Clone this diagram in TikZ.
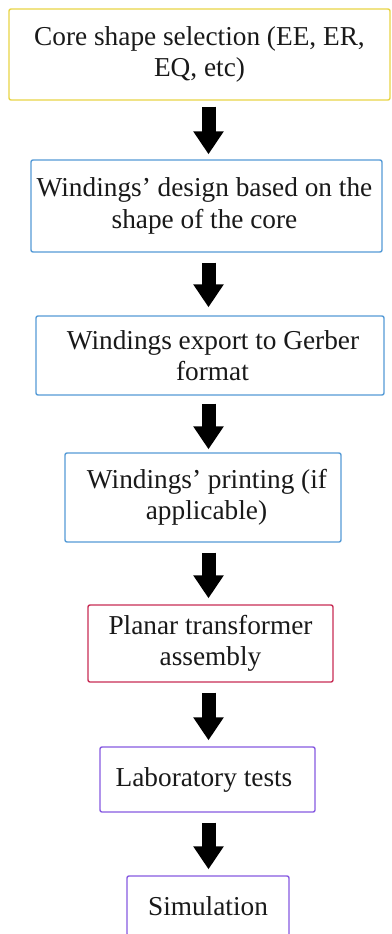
\documentclass[tikz,border=0pt]{standalone}
\usepackage{fontspec}
\setmainfont{Liberation Serif}
\usetikzlibrary{arrows.meta,calc}

\definecolor{boxyellow}{RGB}{232,213,70}
\definecolor{boxblue}{RGB}{85,155,215}
\definecolor{boxred}{RGB}{200,45,85}
\definecolor{boxpurple}{RGB}{135,90,225}

\tikzset{
  stepbox/.style={draw, line width=1.4pt, rounded corners=2pt, fill=white,
    align=center, inner sep=0pt,
    font=\fontsize{27.3}{31.5}\selectfont, text=black!90},
  flowarrow/.style={line width=14pt, black,
    -{Triangle[width=29pt,length=23pt]}}
}

\begin{document}
\begin{tikzpicture}[x=1pt,y=-1pt]
  \useasboundingbox[fill=white] (0,0) rectangle (391,934);

  % vertical axis of the arrows
  \coordinate (ax) at (208.5,0);

  % process steps
  \node[stepbox, draw=boxyellow, minimum width=381pt, minimum height=91pt]
    (b1) at (199.5,54.5) {Core shape selection (EE, ER,\\EQ, etc)};
  \node[stepbox, draw=boxblue, minimum width=351pt, minimum height=92pt]
    (b2) at (206.5,206) {Windings’ design based on the\hspace*{4pt}\\shape of the core\hspace*{4pt}};
  \node[stepbox, draw=boxblue, minimum width=348pt, minimum height=79pt]
    (b3) at (210,355.5) {\hspace*{6pt}Windings export to Gerber\\\hspace*{5pt}format};
  \node[stepbox, draw=boxblue, minimum width=276pt, minimum height=89pt]
    (b4) at (203,497.5) {\hspace*{8pt}Windings’ printing (if\\\hspace*{7pt}applicable)};
  \node[stepbox, draw=boxred, minimum width=245pt, minimum height=77pt]
    (b5) at (210.5,643.5) {Planar transformer\\assembly};
  \node[stepbox, draw=boxpurple, minimum width=215pt, minimum height=65pt]
    (b6) at (207.5,779.5) {Laboratory tests\hspace*{7pt}};
  \node[stepbox, draw=boxpurple, minimum width=162pt, minimum height=60pt]
    (b7) at (208,906) {Simulation};

  % block arrows between the steps
  \draw[flowarrow] ($(b1.south -| ax)+(0,-6pt)$) -- ($(b2.north -| ax)+(0,5pt)$);
  \draw[flowarrow] ($(b2.south -| ax)+(0,-10pt)$) -- ($(b3.north -| ax)+(0,8pt)$);
  \draw[flowarrow] ($(b3.south -| ax)+(0,-8pt)$) -- ($(b4.north -| ax)+(0,3pt)$);
  \draw[flowarrow] ($(b4.south -| ax)+(0,-10pt)$) -- ($(b5.north -| ax)+(0,6pt)$);
  \draw[flowarrow] ($(b5.south -| ax)+(0,-10pt)$) -- ($(b6.north -| ax)+(0,6pt)$);
  \draw[flowarrow] ($(b6.south -| ax)+(0,-10pt)$) -- ($(b7.north -| ax)+(0,6pt)$);
\end{tikzpicture}
\end{document}
